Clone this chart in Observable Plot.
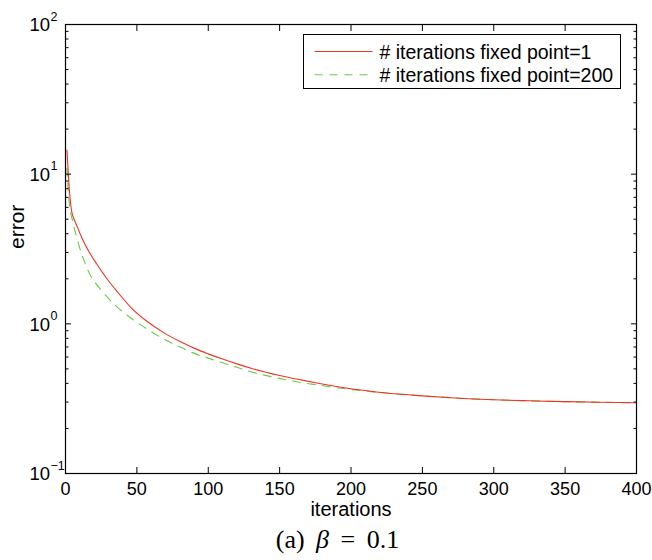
<!DOCTYPE html>
<html><head><meta charset="utf-8">
<script src="https://cdn.jsdelivr.net/npm/d3@7"></script>
<script src="https://cdn.jsdelivr.net/npm/@observablehq/plot@0.6"></script>
<style>
body{margin:0;background:#fff;}
#wrap{position:relative;width:652px;height:560px;font-family:"Liberation Sans",Arial,Helvetica,sans-serif;color:#000;}
#legend{position:absolute;left:303px;top:34px;width:316px;height:53px;border:1.5px solid #000;background:#fff;}
#caption{position:absolute;left:0;top:525px;width:675px;text-align:center;font-family:"Liberation Serif","DejaVu Serif",serif;font-size:26px;white-space:nowrap;word-spacing:5px;}
</style></head>
<body>
<div id="wrap"><div id="chart"></div><div id="legend"></div><div id="caption">(a) <i>β</i> = 0.1</div></div>
<script>
const iterations = [1,2,3,4,5,6,8,10,13,17,22,29,36,46,57,69,81,92,100,111,120,130,150,165,177,200,225,250,270,300,325,350,375,400];
const errorFP1 = [14.5,10,7.2,5.9,5.3,5.0,4.5,4.05,3.5,2.97,2.5,2.0,1.65,1.28,1.04,0.87,0.755,0.675,0.63,0.577,0.54,0.505,0.452,0.422,0.401,0.368,0.345,0.33,0.321,0.311,0.306,0.302,0.299,0.297];
const errorFP200 = [11,7.5,6.0,5.3,4.85,4.4,3.75,3.2,2.65,2.15,1.82,1.52,1.30,1.09,0.925,0.79,0.695,0.625,0.59,0.545,0.512,0.478,0.432,0.405,0.39,0.364,0.344,0.33,0.321,0.311,0.306,0.302,0.299,0.297];
const seriesNames = ["# iterations fixed point=1", "# iterations fixed point=200"];
const seriesColors = ["#ee3322", "#66cc44"];
const xTicks = [0,50,100,150,200,250,300,350,400];
const yMajor = [0.1,1,10,100];
const yExponents = ["\u22121","0","1","2"];
const yMinor = [0.2,0.3,0.4,0.5,0.6,0.7,0.8,0.9,2,3,4,5,6,7,8,9,20,30,40,50,60,70,80,90];
const xLabel = "iterations";
const yLabel = "error";

const rows1 = iterations.map((it, i) => ({iteration: it, error: errorFP1[i]}));
const rows200 = iterations.map((it, i) => ({iteration: it, error: errorFP200[i]}));
const yLabels = yMajor.map((v, i) => ({value: v, exponent: yExponents[i]}));

const font = '"Liberation Sans",Arial,Helvetica,sans-serif';
const chart = Plot.plot({
  width: 652, height: 520,
  marginLeft: 65, marginRight: 16, marginTop: 24, marginBottom: 47,
  style: {fontFamily: font, background: "#fff", color: "#000"},
  x: {type: "linear", domain: [0, 400], axis: null},
  y: {type: "log", domain: [0.1, 100], axis: null},
  marks: [
    Plot.line(rows200, {x: "iteration", y: "error", stroke: seriesColors[1], strokeWidth: 1.1, strokeDasharray: "8,7", curve: "monotone-x"}),
    Plot.line(rows1, {x: "iteration", y: "error", stroke: seriesColors[0], strokeWidth: 1.1, curve: "monotone-x"}),
    Plot.frame({stroke: "#000", strokeWidth: 1.2}),
    Plot.axisX(xTicks, {anchor: "bottom", tickSize: -6, fill: "none", label: null}),
    Plot.axisX(xTicks, {anchor: "top", tickSize: -6, fill: "none", label: null}),
    Plot.axisY(yMajor, {anchor: "left", tickSize: -6, fill: "none", label: null}),
    Plot.axisY(yMajor, {anchor: "right", tickSize: -6, fill: "none", label: null}),
    Plot.axisY(yMinor, {anchor: "left", tickSize: -3.5, fill: "none", label: null}),
    Plot.axisY(yMinor, {anchor: "right", tickSize: -3.5, fill: "none", label: null}),
    Plot.text(xTicks, {x: d => d, text: d => String(d), frameAnchor: "bottom", lineAnchor: "top", dy: 8.5, fontSize: 18, fill: "#000"}),
    Plot.text(yLabels, {y: "value", text: () => "10", frameAnchor: "left", textAnchor: "end", lineAnchor: "middle", dx: -15.5, dy: 1, fontSize: 18.5, fill: "#000"}),
    Plot.text(yLabels, {y: "value", text: "exponent", frameAnchor: "left", textAnchor: "start", lineAnchor: "middle", dx: -15, dy: -8, fontSize: 12.5, fill: "#000"}),
    Plot.text([xLabel], {text: d => d, frameAnchor: "bottom", lineAnchor: "middle", dy: 36.5, fontSize: 20, fill: "#000"}),
    Plot.text([yLabel], {text: d => d, frameAnchor: "left", lineAnchor: "middle", rotate: -90, dx: -48, fontSize: 21, fill: "#000"})
  ]
});
document.getElementById("chart").appendChild(chart);

// legend
const lg = d3.select("#legend").append("svg").attr("width", 316).attr("height", 53)
  .style("display", "block").style("font-family", font);
seriesNames.forEach((name, i) => {
  const y = 16.5 + i * 23.3;
  lg.append("line").attr("x1", 10.5).attr("x2", 68.5).attr("y1", y).attr("y2", y)
    .attr("stroke", seriesColors[i]).attr("stroke-width", 1.1)
    .attr("stroke-dasharray", i === 1 ? "8,7" : null);
  lg.append("text").attr("x", 75.5).attr("y", y + 7).attr("font-size", 19.5).attr("fill", "#000").text(name);
});
</script>
</body></html>
